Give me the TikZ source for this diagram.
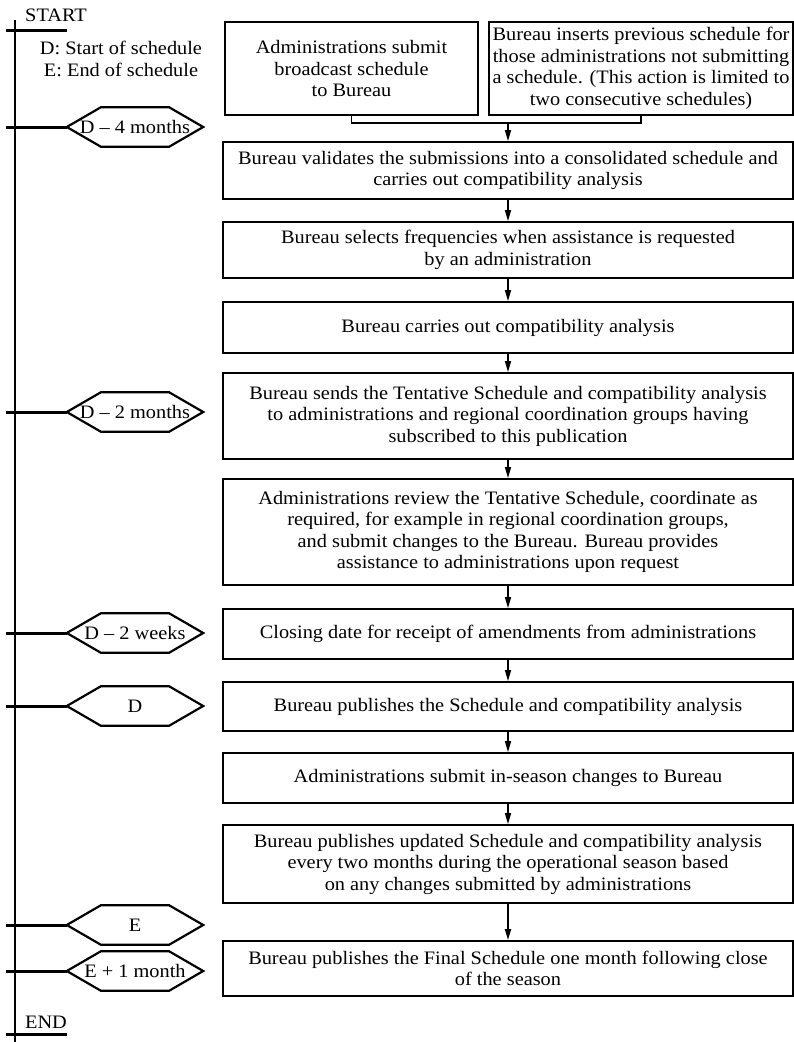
\documentclass[tikz,border=0pt]{standalone}
\usepackage{fontspec}
\setmainfont{Liberation Serif}[FakeStretch=1.07]
\usetikzlibrary{arrows.meta}
\tikzset{
	stepbox/.style={draw, line width=1.8pt, align=center, minimum width=570pt, inner sep=0pt, font=\fontsize{19}{21.5}\selectfont},
	datehex/.style={minimum width=136pt, minimum height=39pt, inner sep=0pt, font=\fontsize{19}{21.5}\selectfont},
	hexline/.style={line width=2.2pt, line join=miter},
	flow/.style={line width=1.4pt, -{Triangle[length=11pt,width=6pt]}},
	timetick/.style={line width=3pt}
}

\begin{document}
\begin{tikzpicture}[x=1pt,y=-1pt]
				\useasboundingbox (0,0) rectangle (794,1042);
				
				\draw[line width=2.4pt] (15,20) -- (15,1042);
				\node[font=\fontsize{19}{21.5}\selectfont, inner sep=0pt] (start) at (56,15) {START};
				\draw[timetick] (6,30) -- (67,30);
				\node[font=\fontsize{19}{22}\selectfont, align=center, inner sep=0pt] (legend) at (121,59) {D: Start of schedule\\E: End of schedule};
				\node[font=\fontsize{19}{21.5}\selectfont, inner sep=0pt] (finish) at (46,1022) {END};
				\draw[timetick] (6,1034) -- (67,1034);
				
				\node[datehex] (dfour) at (135,127) {D -- 4 months};
				\node[datehex] (dtwo) at (135,412) {D -- 2 months};
				\node[datehex] (dweeks) at (135,633) {D -- 2 weeks};
				\node[datehex] (dstart) at (135,706) {D};
				\node[datehex] (eend) at (135,925) {E};
				\node[datehex] (eplus) at (135,971) {E + 1 month};
				\foreach \h in {dfour,dtwo,dweeks,dstart,eend,eplus}{
					\draw[hexline] (\h.west) -- ([xshift=34pt]\h.north west) -- ([xshift=-34pt]\h.north east) -- (\h.east) -- ([xshift=-34pt]\h.south east) -- ([xshift=34pt]\h.south west) -- cycle;
					\draw[timetick] (\h.west) -- ++(-61,0);
				}
				
				\node[stepbox, minimum width=253pt, minimum height=93pt] (submit) at (351.5,68.5) {Administrations submit\\broadcast schedule\\to Bureau};
				\node[stepbox, minimum width=304pt, minimum height=93pt] (insert) at (641,68.5) {Bureau inserts previous schedule for\\those administrations not submitting\\a schedule. (This action is limited to\\two consecutive schedules)};
				\draw[line width=1.8pt] (submit.south) -- ++(0,7) -| (insert.south);
				\coordinate (join) at (508,122);
				
				\node[stepbox, minimum height=57pt] (validate) at (508,170.5) {Bureau validates the submissions into a consolidated schedule and\\carries out compatibility analysis};
				\node[stepbox, minimum height=56pt] (select) at (508,250) {Bureau selects frequencies when assistance is requested\\by an administration};
				\node[stepbox, minimum height=51pt] (analyse) at (508,327.5) {Bureau carries out compatibility analysis};
				\node[stepbox, minimum height=86pt] (tentative) at (508,416) {Bureau sends the Tentative Schedule and compatibility analysis\\to administrations and regional coordination groups having\\subscribed to this publication};
				\node[stepbox, minimum height=106pt] (review) at (508,532) {Administrations review the Tentative Schedule, coordinate as\\required, for example in regional coordination groups,\\and submit changes to the Bureau. Bureau provides\\assistance to administrations upon request};
				\node[stepbox, minimum height=50pt] (closing) at (508,634) {Closing date for receipt of amendments from administrations};
				\node[stepbox, minimum height=49pt] (publish) at (508,706.5) {Bureau publishes the Schedule and compatibility analysis};
				\node[stepbox, minimum height=50pt] (inseason) at (508,778) {Administrations submit in-season changes to Bureau};
				\node[stepbox, minimum height=78pt] (update) at (508,864) {Bureau publishes updated Schedule and compatibility analysis\\every two months during the operational season based\\on any changes submitted by administrations};
				\node[stepbox, minimum height=55pt] (final) at (508,968.5) {Bureau publishes the Final Schedule one month following close\\of the season};
				
				\draw[flow] (join) -- (validate);
				\foreach \a/\b in {validate/select,select/analyse,analyse/tentative,tentative/review,review/closing,closing/publish,publish/inseason,inseason/update}
					\draw[flow] (\a) -- (\b);
				\draw[flow, line width=2pt] (update) -- (final);
			\end{tikzpicture}
\end{document}
